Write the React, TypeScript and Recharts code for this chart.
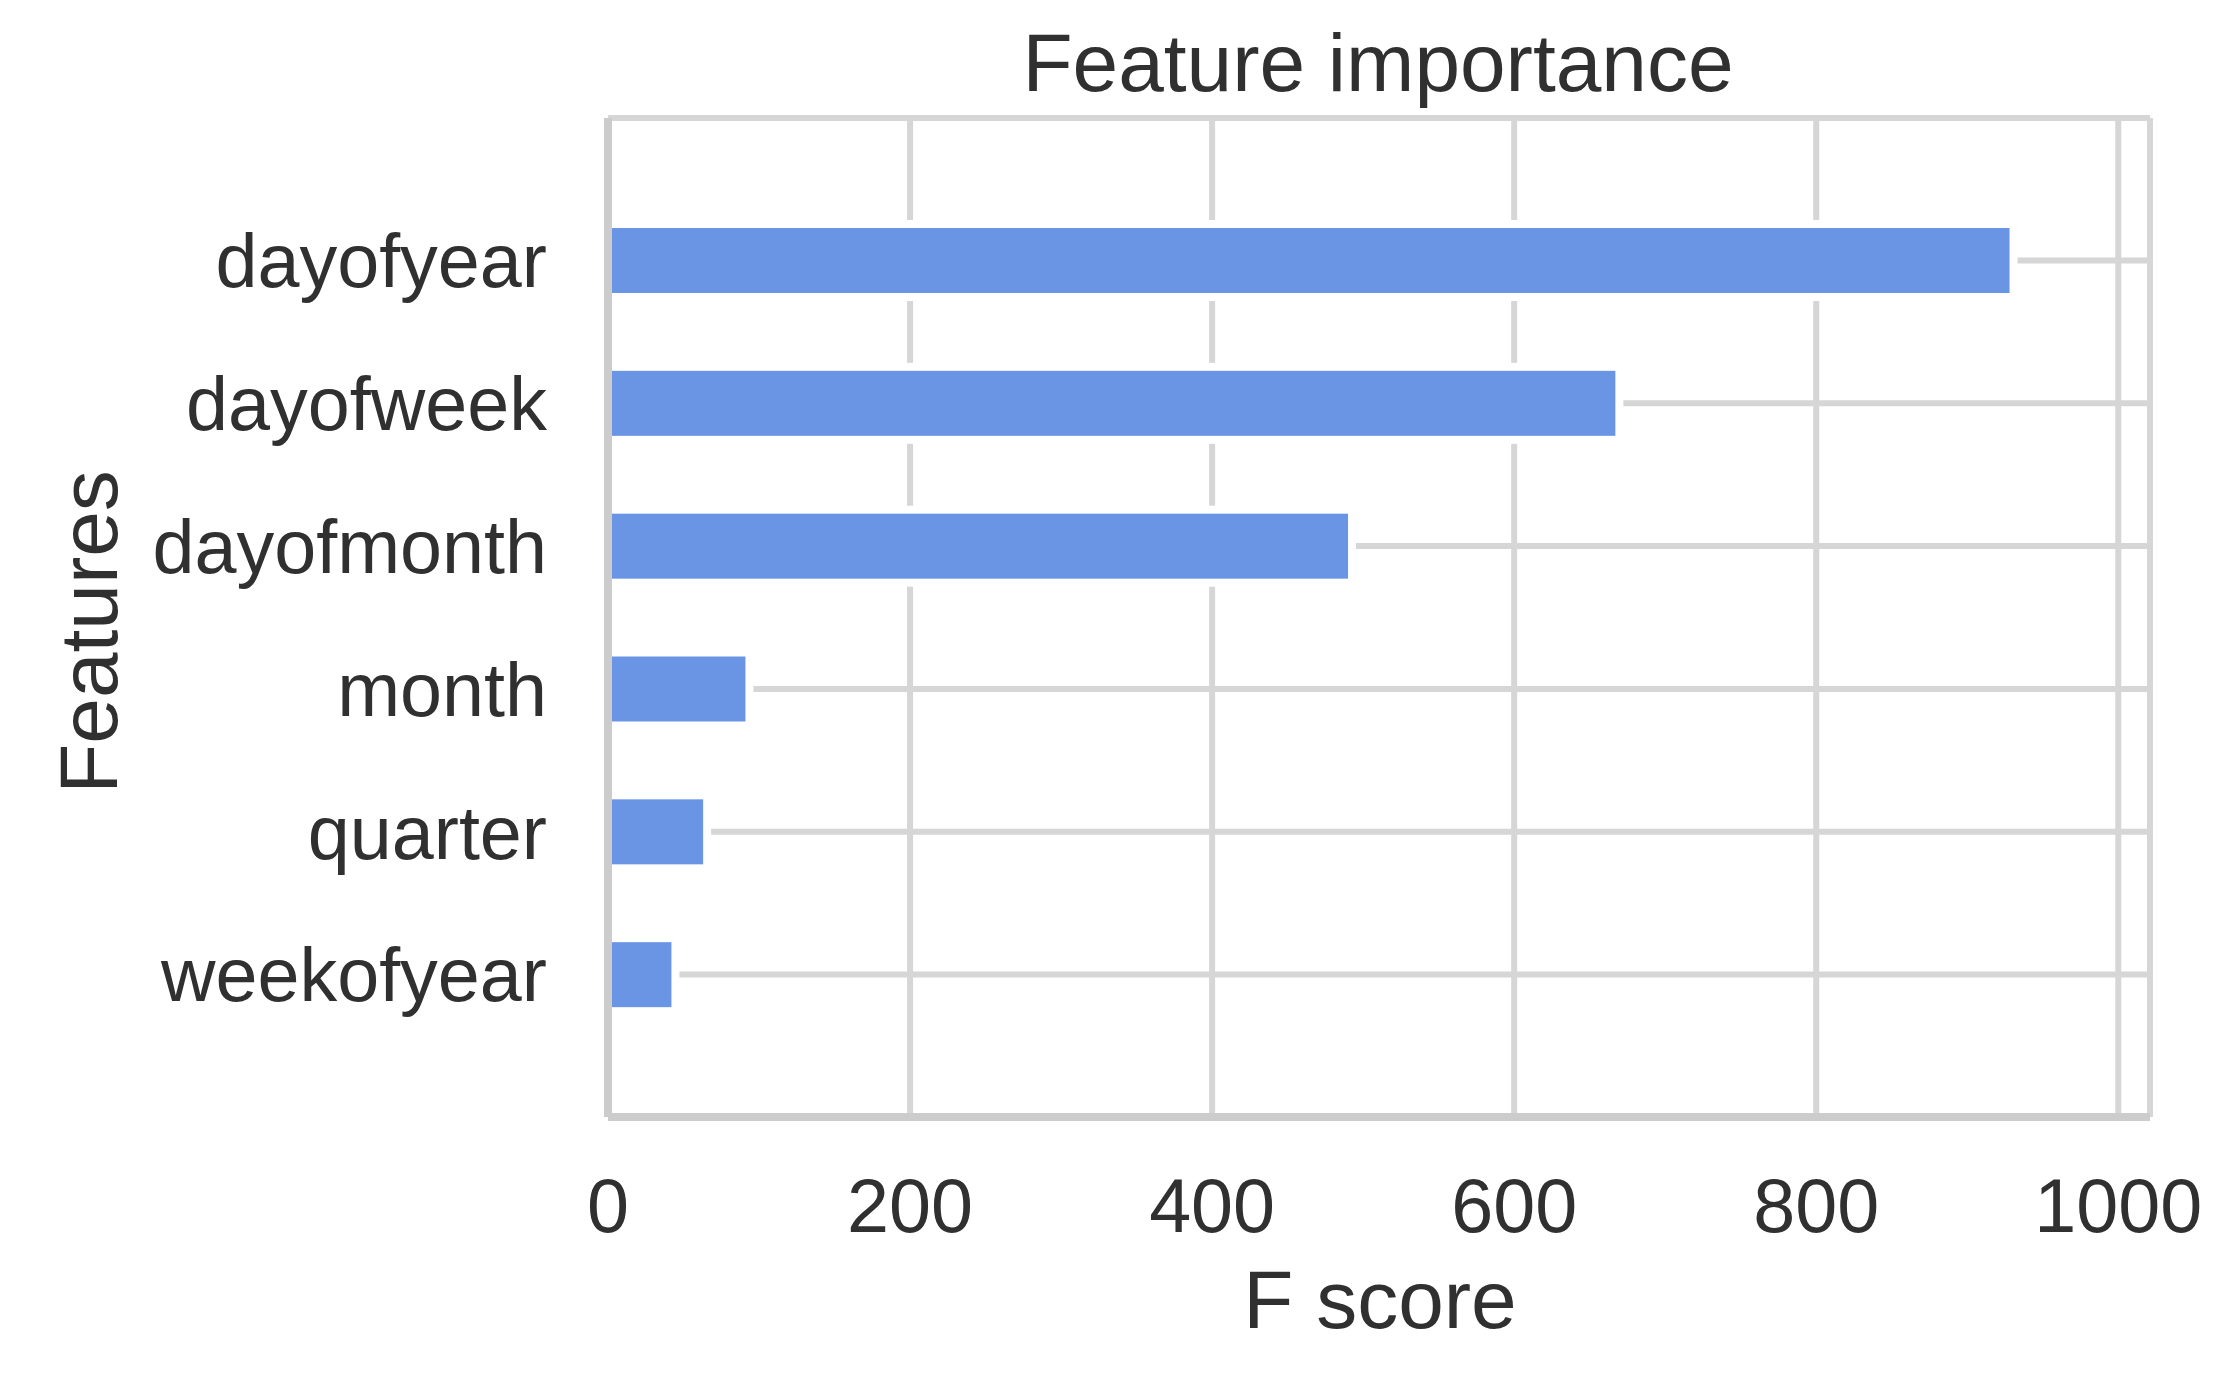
import React from 'react';
import { Bar, BarChart, CartesianGrid, XAxis, YAxis } from 'recharts';

const FEATURES = ['dayofyear', 'dayofweek', 'dayofmonth', 'month', 'quarter', 'weekofyear'];
const F_SCORES = [928, 667, 490, 91, 63, 42];
const X_TICKS = [0, 200, 400, 600, 800, 1000];
const X_MAX = 1021;

const DATA = FEATURES.map((feature, i) => ({ feature, score: F_SCORES[i] }));

const FONT = '"Liberation Sans", Arial, sans-serif';
const TEXT = '#303030';
const GRID = '#d6d6d6';
const FRAME = '#cccccc';
const BAR = '#6a95e4';

// white edge around each bar, like the matplotlib patch edge
const HaloBar: React.FC<any> = ({ x, y, width, height, fill }) => {
  if (width == null || height == null) return null;
  return (
    <g>
      <rect x={x + 4} y={y - 8} width={width + 4} height={height + 16} fill="#ffffff" />
      <rect x={x + 3} y={y} width={width - 3} height={height} fill={fill} />
    </g>
  );
};

const tickStyle = { fill: TEXT, fontSize: 75.5, fontFamily: FONT };

export default function App() {
  return (
    <div style={{ position: 'absolute', left: 0, top: 0, background: '#fff' }}>
      <BarChart
        width={2223}
        height={1375}
        data={DATA}
        layout="vertical"
        margin={{ top: 118, right: 73, bottom: 108, left: 0 }}
        barSize={65}
      >
        <CartesianGrid stroke={GRID} strokeWidth={6} />
        <Bar dataKey="score" fill={BAR} shape={(p: any) => <HaloBar {...p} />} isAnimationActive={false} />
        <XAxis
          type="number"
          dataKey="score"
          domain={[0, X_MAX]}
          ticks={X_TICKS}
          tickLine={false}
          tickSize={0}
          tickMargin={61}
          height={150}
          axisLine={{ stroke: FRAME, strokeWidth: 8 }}
          tick={tickStyle}
        />
        <XAxis
          xAxisId="top"
          orientation="top"
          type="number"
          domain={[0, X_MAX]}
          ticks={X_TICKS}
          tick={false}
          tickLine={false}
          height={0}
          axisLine={{ stroke: FRAME, strokeWidth: 8 }}
        />
        <YAxis
          type="category"
          dataKey="feature"
          width={608}
          padding={{ top: 71, bottom: 71 }}
          tickLine={false}
          tickSize={0}
          tickMargin={61}
          axisLine={{ stroke: FRAME, strokeWidth: 8 }}
          tick={tickStyle}
        />
        <YAxis
          yAxisId="right"
          orientation="right"
          type="category"
          dataKey="feature"
          width={0}
          tick={false}
          tickLine={false}
          axisLine={{ stroke: FRAME, strokeWidth: 8 }}
        />
        <text x={1378} y={91} textAnchor="middle" fontSize={82} fontFamily={FONT} fill={TEXT}>
          Feature importance
        </text>
        <text x={1380} y={1328} textAnchor="middle" fontSize={82} fontFamily={FONT} fill={TEXT}>
          F score
        </text>
        <text
          x={117}
          y={632}
          textAnchor="middle"
          fontSize={82}
          fontFamily={FONT}
          fill={TEXT}
          transform="rotate(-90 117 632)"
        >
          Features
        </text>
      </BarChart>
    </div>
  );
}
